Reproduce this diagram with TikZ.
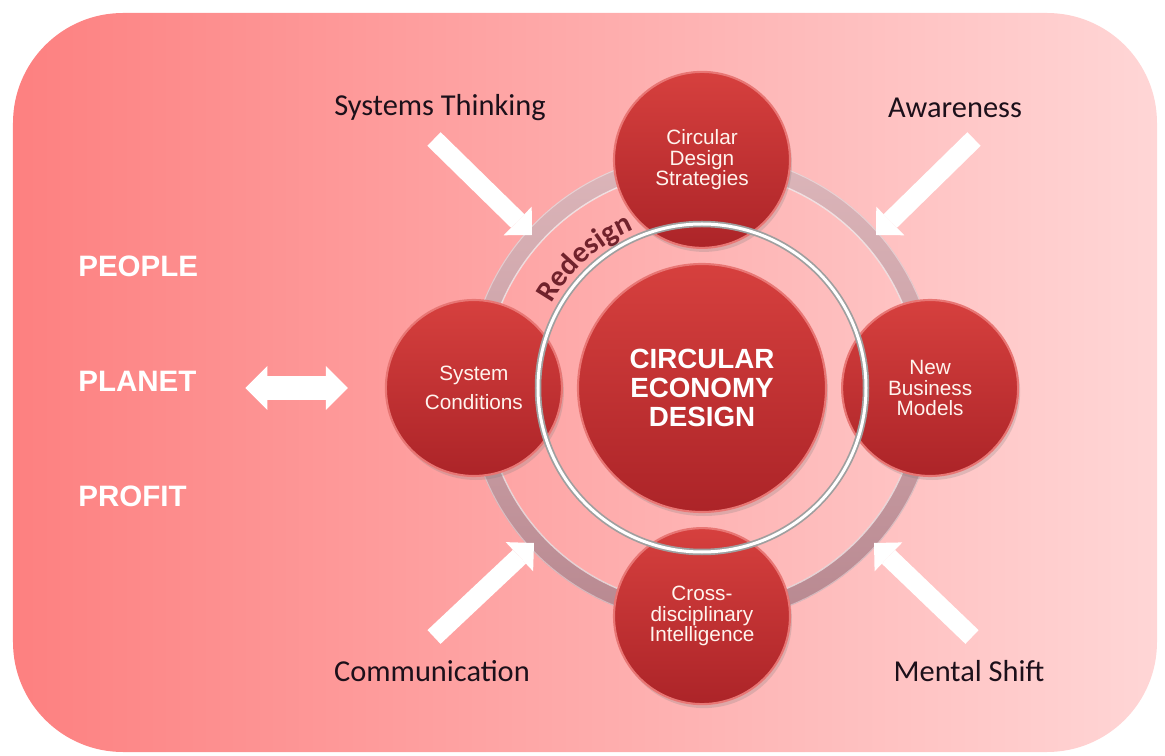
\documentclass[tikz,border=0pt]{standalone}
\usepackage{fontspec}
\setmainfont{Liberation Sans}
\newfontfamily\calibri{Carlito}
\usepackage{tikz}
\usetikzlibrary{arrows.meta, positioning, shadows, decorations.text}
\definecolor{bgleft}{RGB}{253,128,128}
\definecolor{bgright}{RGB}{255,214,214}
\definecolor{disctop}{RGB}{214,64,62}
\definecolor{discbottom}{RGB}{172,36,40}
\definecolor{discrim}{RGB}{232,118,116}
\definecolor{disctext}{RGB}{255,244,238}
\definecolor{ringlight}{RGB}{220,182,186}
\definecolor{ringdark}{RGB}{184,136,144}
\definecolor{labeldark}{RGB}{28,16,26}
\definecolor{redesignred}{RGB}{112,34,44}

\begin{document}
\begin{tikzpicture}[
    disc/.style={circle, top color=disctop, bottom color=discbottom, draw=discrim, line width=1.2pt,
      text=disctext, align=center, inner sep=0pt,
      drop shadow={opacity=0.25, shadow xshift=0.04cm, shadow yshift=-0.08cm}},
    satellite/.style={disc, minimum size=3.52cm, font=\fontsize{11.8}{11.8}\selectfont},
    outerlabel/.style={font=\calibri\fontsize{17.3}{20}\selectfont, text=labeldark},
    pillar/.style={font=\fontsize{16.8}{18}\selectfont\bfseries, text=white, anchor=west, inner sep=0pt},
    blockarrow/.style={white, line width=0.38cm, -{Triangle[length=0.4cm, width=0.8cm, line width=0pt]}},
    dblarrow/.style={white, line width=0.48cm,
      {Triangle[length=0.44cm, width=0.88cm, line width=0pt]}-{Triangle[length=0.44cm, width=0.88cm, line width=0pt]}}
  ]
  \useasboundingbox (-14.04,-7.34) rectangle (9.26,7.76);

  % backdrop
  \shade[left color=bgleft, right color=bgright, rounded corners=2.2cm] (-13.78,-7.28) rectangle (9.1,7.5);

  % outer ring behind the four discs
  \shade[top color=ringlight, bottom color=ringdark, even odd rule] (0,0) circle (4.70cm) circle (4.34cm);
  \draw[white, opacity=0.6, line width=0.8pt] (0,0) circle (4.35cm);
  \draw[white, opacity=0.4, line width=0.6pt] (0,0) circle (4.69cm);

  % centre and satellites
  \node[disc, minimum size=4.96cm, text=white, font=\fontsize{15.8}{16.4}\selectfont\bfseries] (core) at (0,0) {CIRCULAR\\ECONOMY\\DESIGN};
  \node[satellite, above=0.28cm of core] (strategies) {Circular\\Design\\Strategies};
  \node[satellite, left=0.28cm of core] (conditions) {System\\[4.7pt]Conditions};
  \node[satellite, right=0.28cm of core] (models) {New\\Business\\Models};
  \node[satellite, below=0.28cm of core] (intelligence) {Cross-\\disciplinary\\Intelligence};

  % silver inner ring
  \draw[gray!75, line width=0.13cm] (core.center) circle (3.28cm);
  \draw[white, line width=0.06cm] (core.center) circle (3.28cm);

  \path[decorate, decoration={text along path, text align=center, text color=redesignred,
      text={|\calibri\bfseries\fontsize{17}{17}\selectfont|Redesign}}]
    (156:3.44) arc[start angle=156, end angle=108, radius=3.44];

  % drivers
  \node[outerlabel] (thinking) at (-5.24,5.6) {Systems Thinking};
  \node[outerlabel] (awareness) at (5.06,5.6) {Awareness};
  \node[outerlabel] (communication) at (-5.4,-5.66) {Communication};
  \node[outerlabel] (shift) at (5.34,-5.66) {Mental Shift};

  \coordinate (thinking-tail) at (-5.36,4.98);
  \coordinate (awareness-tail) at (5.44,4.98);
  \coordinate (communication-tail) at (-5.36,-4.98);
  \coordinate (shift-tail) at (5.40,-4.98);
  \coordinate (ring-nw) at (-3.40,3.06);
  \coordinate (ring-ne) at (3.48,3.06);
  \coordinate (ring-sw) at (-3.36,-3.10);
  \coordinate (ring-se) at (3.44,-3.10);

  \draw[blockarrow] (thinking-tail) -- (ring-nw);
  \draw[blockarrow] (awareness-tail) -- (ring-ne);
  \draw[blockarrow] (communication-tail) -- (ring-sw);
  \draw[blockarrow] (shift-tail) -- (ring-se);

  % triple bottom line
  \node[pillar] (people) at (-12.48,2.44) {PEOPLE};
  \node[pillar] (planet) at (-12.48,0.14) {PLANET};
  \node[pillar] (profit) at (-12.48,-2.16) {PROFIT};

  \draw[dblarrow, shorten <=0.97cm, shorten >=0.74cm] (planet.east |- conditions) -- (conditions);
\end{tikzpicture}
\end{document}
